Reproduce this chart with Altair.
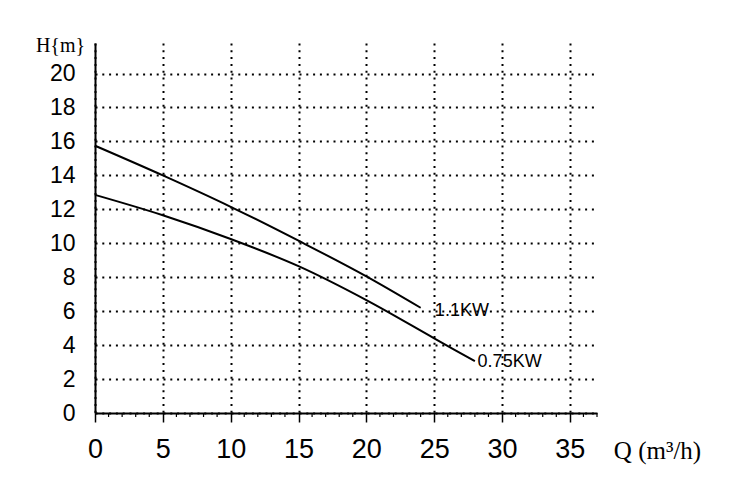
import altair as alt
import pandas as pd

# Pump curve data
q_11 = [0, 5, 10, 15, 20, 24]
h_11 = [15.75, 14.0, 12.15, 10.15, 8.05, 6.2]
q_075 = [0, 5, 10, 15, 20, 25, 28]
h_075 = [12.85, 11.65, 10.25, 8.65, 6.65, 4.4, 3.05]

x_ticks = [0, 5, 10, 15, 20, 25, 30, 35]
y_ticks = [0, 2, 4, 6, 8, 10, 12, 14, 16, 18, 20]
minor_ticks = [i for i in range(1, 38) if i % 5 != 0]

label_text = ["1.1KW", "0.75KW"]
label_q = [25.05, 28.2]
label_h = [6.0, 3.03]

curves = pd.DataFrame(
    {
        "Q": q_11 + q_075,
        "H": h_11 + h_075,
        "series": ["1.1KW"] * len(q_11) + ["0.75KW"] * len(q_075),
    }
)
labels = pd.DataFrame({"Q": label_q, "H": label_h, "text": label_text})
minor = pd.DataFrame({"Q": minor_ticks})

xscale = alt.Scale(domain=[0, 37], nice=False, zero=False)
yscale = alt.Scale(domain=[0, 21.8], nice=False, zero=False)

NARROW = "Liberation Sans Narrow, Arial Narrow, Liberation Sans"

xaxis = alt.Axis(
    values=x_ticks,
    grid=True,
    gridColor="black",
    gridDash=[2, 4.8],
    gridWidth=2,
    gridOpacity=1,
    domainColor="black",
    domainWidth=2,
    tickColor="black",
    tickSize=9,
    tickWidth=1.5,
    labelFont=NARROW,
    labelFontSize=27,
    labelColor="black",
    labelPadding=14,
    labelFlush=False,
    title="Q (m³/h)",
    titleFont="Liberation Serif",
    titleFontSize=25,
    titleFontWeight="normal",
    titleColor="black",
    titleX=562,
    titleY=37,
    titleAlign="center",
    titleBaseline="middle",
)
yaxis = alt.Axis(
    values=y_ticks,
    grid=True,
    gridColor="black",
    gridDash=[2, 4.8],
    gridWidth=2,
    gridOpacity=1,
    domainColor="black",
    domainWidth=2,
    ticks=False,
    labelFont=NARROW,
    labelFontSize=23,
    labelColor="black",
    labelPadding=20,
    labelFlush=False,
    title="H{m}",
    titleFont="Liberation Serif",
    titleFontSize=20,
    titleFontWeight="normal",
    titleColor="black",
    titleAngle=0,
    titleX=-35,
    titleY=2,
    titleAlign="center",
    titleBaseline="middle",
)

X = alt.X("Q:Q", scale=xscale, axis=xaxis)
Y = alt.Y("H:Q", scale=yscale, axis=yaxis)

lines = (
    alt.Chart(curves)
    .mark_line(color="black", strokeWidth=2, interpolate="monotone")
    .encode(x=X, y=Y, detail="series:N")
)

texts = (
    alt.Chart(labels)
    .mark_text(
        align="left",
        baseline="middle",
        font="Liberation Sans",
        fontSize=18,
        color="black",
    )
    .encode(x=X, y=Y, text="text:N")
)

minor_rules = (
    alt.Chart(minor)
    .mark_rule(color="black", strokeWidth=1.2)
    .encode(x=X, y=alt.value(370), y2=alt.value(374))
)

chart = (
    alt.layer(lines, texts, minor_rules)
    .properties(
        width=502,
        height=370,
        autosize="none",
        padding={"left": 87, "top": 35, "right": 145, "bottom": 80},
        background="white",
    )
    .configure_view(stroke=None)
)

chart.save("out.html", embed_options={"renderer": "svg", "actions": False})
